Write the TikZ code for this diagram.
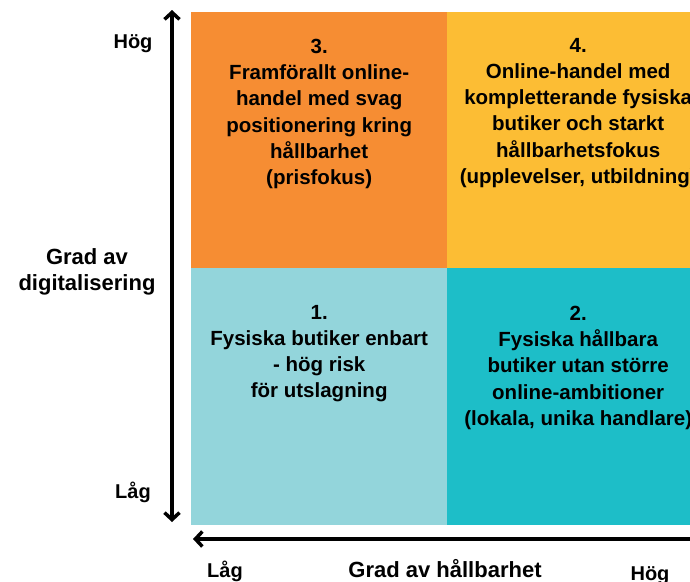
\documentclass[tikz,border=0pt]{standalone}
\usepackage{fontspec}
\setmainfont{Liberation Sans}
\usepackage{xcolor}
\usetikzlibrary{arrows.meta, positioning}

\definecolor{quadorange}{HTML}{F68D33}
\definecolor{quadyellow}{HTML}{FCBD34}
\definecolor{quadlight}{HTML}{93D5DB}
\definecolor{quadteal}{HTML}{1DBEC8}

\begin{document}
\begin{tikzpicture}[
            x=1pt, y=-1pt,
            quad/.style={rectangle, draw=none, inner sep=0pt, anchor=north west, minimum height=256.5pt},
            quadtext/.style={align=center, inner sep=0pt, font=\fontsize{20.5}{26.2}\selectfont\bfseries},
            axislabel/.style={inner sep=0pt, anchor=base, font=\fontsize{20}{26}\selectfont\bfseries},
            axistitle/.style={align=center, inner sep=0pt, font=\fontsize{22}{26}\selectfont\bfseries},
            axis/.style={line width=3.5pt, >={Straight Barb[length=7pt, width=15pt]}}
        ]
        \useasboundingbox (0,0) rectangle (690,581);
        \clip (0,0) rectangle (690,581);

        % Quadrants
        \node[quad, fill=quadorange, minimum width=256pt] (q3) at (191,12) {};
        \node[quad, fill=quadyellow, minimum width=262pt] (q4) at (447,12) {};
        \node[quad, fill=quadlight, minimum width=256pt] (q1) at (191,268) {};
        \node[quad, fill=quadteal, minimum width=262pt] (q2) at (447,268) {};

        % Quadrant texts
        \node[quadtext, below=27pt of q3.north] (t3) {3.\\Framförallt online-\\handel med svag\\positionering kring\\hållbarhet\\(prisfokus)};
        \node[quadtext, below=26pt of q4.north] (t4) {4.\\Online-handel med\\kompletterande fysiska\\butiker och starkt\\hållbarhetsfokus\\(upplevelser, utbildning)};
        \node[quadtext, below=37pt of q1.north] (t1) {1.\\Fysiska butiker enbart\\- hög risk\\för utslagning};
        \node[quadtext, below=38pt of q2.north] (t2) {2.\\Fysiska hållbara\\butiker utan större\\online-ambitioner\\(lokala, unika handlare)};

        % Axes
        \coordinate (ytop) at (172,10);
        \coordinate (ybot) at (172,522);
        \coordinate (xtip) at (193,539);
        \coordinate (xend) at (692,539);
        \draw[axis, <->] (ybot) -- (ytop);
        \draw[axis, ->] (xend) -- (xtip);

        % Labels
        \node[axislabel] (yhigh) at (133,48) {Hög};
        \node[axislabel] (ylow) at (133,498) {Låg};
        \node[axistitle, anchor=north] (ytitle) at (87,248) {Grad av\\digitalisering};
        \node[axislabel] (xlow) at (225,577) {Låg};
        \node[axislabel, font=\fontsize{22}{26}\selectfont\bfseries] (xtitle) at (445,577) {Grad av hållbarhet};
        \node[axislabel] (xhigh) at (650,580) {Hög};

    \end{tikzpicture}
\end{document}
